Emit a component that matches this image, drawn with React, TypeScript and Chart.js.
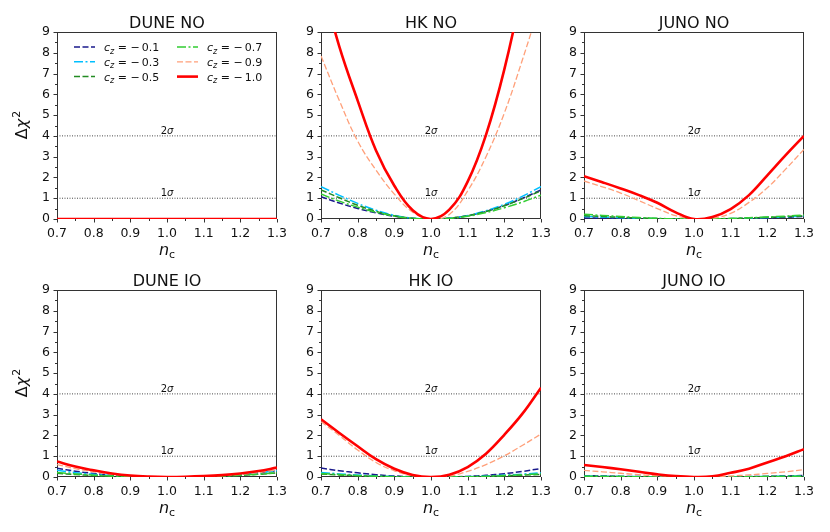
import { useEffect, useRef } from "react"
import { Chart, registerables, type ChartConfiguration, type Plugin } from "chart.js"

Chart.register(...registerables)

const FONT = "'DejaVu Sans', sans-serif"

// x grid of the scan (n_c) and axis ticks
const nc = [0.7, 0.75, 0.8, 0.85, 0.9, 0.95, 1.0, 1.05, 1.1, 1.15, 1.2, 1.25, 1.3]
const xTickValues = [0.7, 0.8, 0.9, 1.0, 1.1, 1.2, 1.3]
const yTickValues = [0, 1, 2, 3, 4, 5, 6, 7, 8, 9]
const czValues = ["−0.1", "−0.3", "−0.5", "−0.7", "−0.9", "−1.0"]
const sigmaLevels = [1, 4]
const sigmaNames = ["1", "2"]

// each panel: series for c_z = -0.1, -0.3, -0.5, -0.7, -0.9, -1.0
const duneNO = [
  [0, 0, 0, 0, 0, 0, 0, 0, 0, 0, 0, 0, 0],
  [0, 0, 0, 0, 0, 0, 0, 0, 0, 0, 0, 0, 0],
  [0, 0, 0, 0, 0, 0, 0, 0, 0, 0, 0, 0, 0],
  [0, 0, 0, 0, 0, 0, 0, 0, 0, 0, 0, 0, 0],
  [0, 0, 0, 0, 0, 0, 0, 0, 0, 0, 0, 0, 0],
  [0, 0, 0, 0, 0, 0, 0, 0, 0, 0, 0, 0, 0],
]
const hkNO = [
  [1.07, 0.77, 0.51, 0.3, 0.13, 0.03, 0, 0.04, 0.16, 0.37, 0.65, 1.0, 1.4],
  [1.56, 1.14, 0.75, 0.42, 0.18, 0.04, 0, 0.04, 0.17, 0.4, 0.71, 1.1, 1.56],
  [1.4, 1.02, 0.66, 0.37, 0.16, 0.04, 0, 0.04, 0.16, 0.36, 0.64, 0.98, 1.36],
  [1.2, 0.86, 0.57, 0.33, 0.14, 0.03, 0, 0.03, 0.13, 0.31, 0.54, 0.82, 1.15],
  [7.85, 5.7, 3.75, 2.35, 1.2, 0.33, 0, 0.22, 1.35, 3.0, 5.1, 7.7, 10.5],
  [11.5, 8.3, 5.7, 3.3, 1.6, 0.42, 0, 0.45, 1.8, 4.05, 7.2, 11.2, 16.0],
]
const junoNO = [
  [0.05, 0.04, 0.03, 0.02, 0.01, 0, 0, 0, 0.01, 0.03, 0.05, 0.08, 0.12],
  [0.12, 0.09, 0.06, 0.04, 0.02, 0.01, 0, 0.01, 0.02, 0.04, 0.07, 0.1, 0.14],
  [0.16, 0.12, 0.08, 0.05, 0.02, 0.01, 0, 0.01, 0.02, 0.05, 0.08, 0.11, 0.15],
  [0.23, 0.17, 0.12, 0.07, 0.03, 0.01, 0, 0.01, 0.03, 0.06, 0.1, 0.14, 0.19],
  [1.83, 1.55, 1.25, 0.88, 0.5, 0.16, 0, 0.04, 0.27, 0.8, 1.5, 2.4, 3.35],
  [2.06, 1.77, 1.47, 1.15, 0.78, 0.32, 0, 0.1, 0.48, 1.15, 2.1, 3.07, 4.0],
]
const duneIO = [
  [0.42, 0.28, 0.17, 0.09, 0.04, 0.01, 0, 0.01, 0.03, 0.06, 0.12, 0.2, 0.3],
  [0.32, 0.21, 0.13, 0.07, 0.03, 0.01, 0, 0.01, 0.03, 0.06, 0.12, 0.2, 0.3],
  [0.18, 0.12, 0.07, 0.04, 0.02, 0, 0, 0, 0.02, 0.04, 0.08, 0.13, 0.2],
  [0.22, 0.15, 0.09, 0.05, 0.02, 0, 0, 0, 0.02, 0.04, 0.08, 0.13, 0.2],
  [0.6, 0.4, 0.25, 0.13, 0.05, 0.01, 0, 0.01, 0.03, 0.07, 0.13, 0.22, 0.34],
  [0.75, 0.5, 0.32, 0.17, 0.07, 0.02, 0, 0.01, 0.04, 0.09, 0.17, 0.29, 0.45],
]
const hkIO = [
  [0.43, 0.3, 0.2, 0.11, 0.05, 0.01, 0, 0.01, 0.03, 0.08, 0.16, 0.27, 0.41],
  [0.22, 0.15, 0.1, 0.05, 0.02, 0, 0, 0, 0.02, 0.05, 0.09, 0.14, 0.2],
  [0.15, 0.1, 0.06, 0.03, 0.01, 0, 0, 0, 0.01, 0.03, 0.06, 0.09, 0.12],
  [0.17, 0.12, 0.07, 0.04, 0.01, 0, 0, 0, 0.01, 0.03, 0.07, 0.11, 0.15],
  [2.66, 2.0, 1.3, 0.7, 0.3, 0.07, 0, 0.04, 0.27, 0.6, 1.02, 1.53, 2.07],
  [2.78, 2.12, 1.48, 0.86, 0.4, 0.1, 0, 0.11, 0.48, 1.12, 2.03, 3.06, 4.3],
]
const junoIO = [
  [0.06, 0.05, 0.03, 0.02, 0.01, 0, 0, 0, 0.01, 0.02, 0.03, 0.05, 0.07],
  [0.05, 0.04, 0.03, 0.02, 0.01, 0, 0, 0, 0.01, 0.02, 0.03, 0.04, 0.05],
  [0.03, 0.02, 0.02, 0.01, 0, 0, 0, 0, 0, 0.01, 0.02, 0.02, 0.03],
  [0.04, 0.03, 0.02, 0.01, 0, 0, 0, 0, 0, 0.01, 0.02, 0.03, 0.04],
  [0.32, 0.25, 0.18, 0.11, 0.06, 0.02, 0, 0.01, 0.05, 0.1, 0.17, 0.25, 0.35],
  [0.58, 0.48, 0.37, 0.25, 0.13, 0.04, 0, 0.03, 0.2, 0.4, 0.7, 1.0, 1.34],
]

const lineColors = ["#1a1a8c", "#00bfff", "#228b22", "#32cd32", "#ffa07a", "#ff0000"]
const lineDashes = [[6, 2.5], [9, 2.5, 2, 2.5], [6, 2.5], [9, 2.5, 2, 2.5], [6, 2.5], []]
const lineWidths = [1.5, 1.5, 1.5, 1.5, 1.3, 2.6]

// axis frame and matplotlib-like outward ticks, drawn under the curves
const framePlugin: Plugin<"line"> = {
  id: "frame",
  beforeDatasetsDraw(chart) {
    const { ctx, chartArea: a, scales } = chart
    const xs = scales.x
    const ys = scales.y
    ctx.save()
    ctx.strokeStyle = "#333"
    ctx.lineWidth = 1
    ctx.strokeRect(Math.round(a.left) + 0.5, Math.round(a.top) + 0.5, Math.round(a.right - a.left) - 1, Math.round(a.bottom - a.top) - 1)
    ctx.beginPath()
    for (let k = 0; k <= 18; k++) {
      const py = Math.round(ys.getPixelForValue(k / 2)) + 0.5
      const len = k % 2 === 0 ? 3.5 : 2
      ctx.moveTo(a.left, py)
      ctx.lineTo(a.left - len, py)
    }
    for (let k = 0; k <= 12; k++) {
      const px = Math.round(xs.getPixelForValue(0.7 + k * 0.05)) + 0.5
      const len = k % 2 === 0 ? 3.5 : 2
      ctx.moveTo(px, a.bottom)
      ctx.lineTo(px, a.bottom + len)
    }
    ctx.stroke()
    ctx.restore()
  },
}

// titles, sigma labels and legend
const textPlugin: Plugin<"line"> = {
  id: "deco",
  afterDraw(chart, _args, opts: any) {
    const { ctx, chartArea: a, scales } = chart
    const xs = scales.x
    const ys = scales.y
    const cx = (a.left + a.right) / 2
    ctx.save()
    ctx.fillStyle = "#111"
    ctx.textBaseline = "alphabetic"

    sigmaLevels.forEach((lev, i) => {
      const py = ys.getPixelForValue(lev) - 2
      const px = xs.getPixelForValue(1.0)
      ctx.font = `10px ${FONT}`
      const w1 = ctx.measureText(sigmaNames[i]).width
      ctx.font = `italic 10px ${FONT}`
      const w2 = ctx.measureText("σ").width
      const sx = px - (w1 + w2) / 2
      ctx.textAlign = "left"
      ctx.font = `10px ${FONT}`
      ctx.fillText(sigmaNames[i], sx, py)
      ctx.font = `italic 10px ${FONT}`
      ctx.fillText("σ", sx + w1, py)
    })

    ctx.textAlign = "center"
    ctx.font = `16px ${FONT}`
    ctx.fillText(opts.title, cx, a.top - 4.5)

    // x title n_c
    ctx.textAlign = "left"
    ctx.font = `italic 16px ${FONT}`
    const wn = ctx.measureText("n").width
    ctx.font = `11px ${FONT}`
    const wc = ctx.measureText("c").width
    const nx = cx - (wn + wc) / 2
    ctx.font = `italic 16px ${FONT}`
    ctx.fillText("n", nx, a.bottom + 36)
    ctx.font = `11px ${FONT}`
    ctx.fillText("c", nx + wn, a.bottom + 39)

    if (opts.yTitle) {
      ctx.save()
      ctx.translate(27, (a.top + a.bottom) / 2)
      ctx.rotate(-Math.PI / 2)
      ctx.font = `16px ${FONT}`
      const wd = ctx.measureText("Δ").width
      ctx.font = `italic 16px ${FONT}`
      const wx = ctx.measureText("χ").width
      ctx.font = `11px ${FONT}`
      const w2 = ctx.measureText("2").width
      const sx = -(wd + wx + w2) / 2
      ctx.font = `16px ${FONT}`
      ctx.fillText("Δ", sx, 0)
      ctx.font = `italic 16px ${FONT}`
      ctx.fillText("χ", sx + wd, 0)
      ctx.font = `11px ${FONT}`
      ctx.fillText("2", sx + wd + wx + 1, -7)
      ctx.restore()
    }

    if (opts.legend) {
      chart.data.datasets.slice(0, czValues.length).forEach((ds: any, i) => {
        const col = Math.floor(i / 3)
        const row = i % 3
        const lx = a.left + (col ? 120 : 17)
        const ly = a.top + 15 + row * 14.8
        ctx.save()
        ctx.strokeStyle = ds.borderColor
        ctx.lineWidth = ds.borderWidth
        ctx.setLineDash(ds.borderDash)
        ctx.beginPath()
        ctx.moveTo(lx, ly)
        ctx.lineTo(lx + 21, ly)
        ctx.stroke()
        ctx.restore()
        const tx = lx + 30
        const by = ly + 4
        ctx.font = `italic 11px ${FONT}`
        ctx.fillText("c", tx, by)
        const wcc = ctx.measureText("c").width
        ctx.font = `italic 8px ${FONT}`
        ctx.fillText("z", tx + wcc, by + 2.5)
        const wz = ctx.measureText("z").width
        ctx.font = `11px ${FONT}`
        ctx.fillText(` = ${czValues[i].replace("−", "−\u2009")}`, tx + wcc + wz, by)
      })
    }
    ctx.restore()
  },
}

type PanelProps = {
  left: number
  top: number
  title: string
  series: number[][]
  yTitle?: boolean
  legend?: boolean
}

function Panel({ left, top, title, series, yTitle, legend }: PanelProps) {
  const canvasRef = useRef<HTMLCanvasElement>(null)
  const chartRef = useRef<Chart | null>(null)

  useEffect(() => {
    if (!canvasRef.current) return
    const ctx = canvasRef.current.getContext("2d")
    if (!ctx) return

    const datasets: any[] = series.map((vals, i) => ({
      label: czValues[i],
      data: nc.map((x, j) => ({ x, y: vals[j] })),
      borderColor: lineColors[i],
      borderDash: lineDashes[i],
      borderWidth: lineWidths[i],
      pointRadius: 0,
      fill: false,
      tension: 0.4,
      order: series.length - 1 - i,
    }))
    sigmaLevels.forEach((lev) => {
      datasets.push({
        label: "",
        data: [
          { x: nc[0], y: lev },
          { x: nc[nc.length - 1], y: lev },
        ],
        borderColor: "#333",
        borderWidth: 0.9,
        borderDash: [1, 1.5],
        pointRadius: 0,
        fill: false,
        order: 20,
      })
    })

    const noPad = (s: any) => {
      s.paddingLeft = 0
      s.paddingRight = 0
      s.paddingTop = 0
      s.paddingBottom = 0
    }

    const config: ChartConfiguration<"line"> = {
      type: "line",
      data: { datasets },
      options: {
        responsive: false,
        animation: false,
        elements: { line: { capBezierPoints: false } },
        layout: { padding: { top: 32, left: 0, right: 15, bottom: 0 } },
        plugins: {
          legend: { display: false },
          tooltip: { enabled: false },
          deco: { title, yTitle, legend },
        } as any,
        scales: {
          x: {
            type: "linear",
            min: 0.7,
            max: 1.3,
            afterBuildTicks: (s: any) => {
              s.ticks = xTickValues.map((v) => ({ value: v }))
            },
            ticks: {
              callback: (v) => Number(v).toFixed(1),
              font: { family: FONT, size: 12.5 },
              color: "#111",
              padding: 7,
              maxRotation: 0,
              autoSkip: false,
            },
            grid: { display: false, drawTicks: false },
            border: { display: false },
            afterFit: (s: any) => {
              s.height = 40
              noPad(s)
            },
          },
          y: {
            type: "linear",
            min: 0,
            max: 9,
            afterBuildTicks: (s: any) => {
              s.ticks = yTickValues.map((v) => ({ value: v }))
            },
            ticks: {
              font: { family: FONT, size: 12.5 },
              color: "#111",
              padding: 7,
              autoSkip: false,
            },
            grid: { display: false, drawTicks: false },
            border: { display: false },
            afterFit: (s: any) => {
              s.width = 57
              noPad(s)
            },
          },
        },
      },
      plugins: [framePlugin, textPlugin],
    }

    chartRef.current = new Chart(ctx, config)
    return () => {
      chartRef.current?.destroy()
      chartRef.current = null
    }
  }, [title, series, yTitle, legend])

  return (
    <div style={{ position: "absolute", left, top, width: 292, height: 259 }}>
      <canvas ref={canvasRef} width={292} height={259} />
    </div>
  )
}

export default function App() {
  const cols = [0, 264, 527]
  const rows = [0, 258]
  return (
    <div style={{ position: "absolute", left: 0, top: 0, width: 830, height: 532, background: "#fff" }}>
      <Panel left={cols[0]} top={rows[0]} title="DUNE NO" series={duneNO} yTitle legend />
      <Panel left={cols[1]} top={rows[0]} title="HK NO" series={hkNO} />
      <Panel left={cols[2]} top={rows[0]} title="JUNO NO" series={junoNO} />
      <Panel left={cols[0]} top={rows[1]} title="DUNE IO" series={duneIO} yTitle />
      <Panel left={cols[1]} top={rows[1]} title="HK IO" series={hkIO} />
      <Panel left={cols[2]} top={rows[1]} title="JUNO IO" series={junoIO} />
    </div>
  )
}
